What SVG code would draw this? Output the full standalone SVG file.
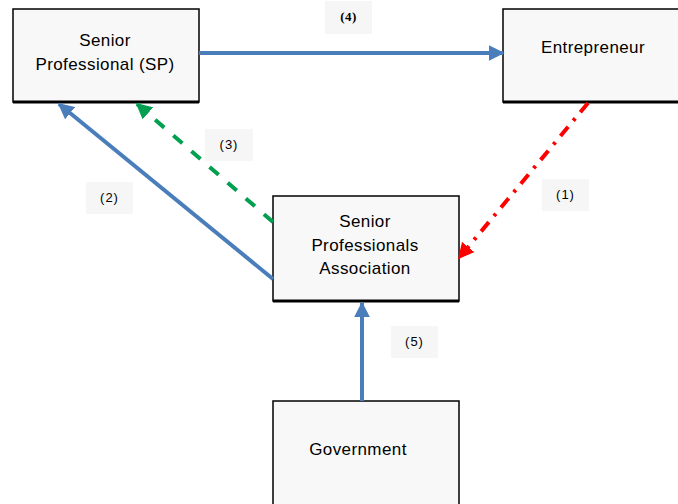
<svg xmlns="http://www.w3.org/2000/svg" width="678" height="504" viewBox="0 0 678 504">
  <style>
    .box { fill: #f8f8f8; stroke: #000; stroke-width: 1.5; }
    .base { stroke: #000; stroke-width: 3; }
    .txt { font-family: "Liberation Sans", Arial, sans-serif; font-size: 17px; letter-spacing: 0.4px; fill: #000; text-anchor: middle; }
    .tag { fill: #f6f6f6; }
    .tagtxt { font-family: "Liberation Sans", Arial, sans-serif; font-size: 13px; letter-spacing: 1px; fill: #000; text-anchor: middle; }
    .bold { font-family: "Liberation Serif", "Times New Roman", serif; font-weight: bold; letter-spacing: 0.5px; }
    .blue { stroke: #4a7ebb; stroke-width: 4; fill: none; }
  </style>
  <defs>
    <marker id="ahBlue" viewBox="0 0 10 10" refX="9" refY="5" markerWidth="4" markerHeight="4" orient="auto" markerUnits="strokeWidth">
      <path d="M0,0 L10,5 L0,10 z" fill="#4a7ebb"/>
    </marker>
    <marker id="ahGreen" viewBox="0 0 10 10" refX="9" refY="5" markerWidth="4" markerHeight="4" orient="auto" markerUnits="strokeWidth">
      <path d="M0,0 L10,5 L0,10 z" fill="#00a050"/>
    </marker>
    <marker id="ahRed" viewBox="0 0 10 10" refX="9" refY="5" markerWidth="4" markerHeight="4" orient="auto" markerUnits="strokeWidth">
      <path d="M0,0 L10,5 L0,10 z" fill="#ff0000"/>
    </marker>
  </defs>

  <rect width="678" height="504" fill="#fff"/>

  <!-- connector labels -->
  <g id="labels">
    <rect class="tag" x="325" y="1" width="47" height="33"/>
    <text class="tagtxt bold" x="348.5" y="21">(4)</text>
    <rect class="tag" x="205" y="129" width="48" height="32"/>
    <text class="tagtxt" x="229" y="149">(3)</text>
    <rect class="tag" x="86" y="182" width="47" height="32"/>
    <text class="tagtxt" x="109.5" y="202">(2)</text>
    <rect class="tag" x="542" y="179" width="47" height="32"/>
    <text class="tagtxt" x="565.5" y="199">(1)</text>
    <rect class="tag" x="391" y="326" width="47" height="32"/>
    <text class="tagtxt" x="414.5" y="346">(5)</text>
  </g>

  <g id="sp">
    <rect class="box" x="13" y="9" width="186" height="93"/>
    <line class="base" x1="13" y1="102" x2="199" y2="102"/>
    <text class="txt" x="105" y="46">Senior</text>
    <text class="txt" x="105" y="70">Professional (SP)</text>
  </g>

  <g id="entrepreneur">
    <rect class="box" x="503" y="9" width="176" height="93"/>
    <line class="base" x1="503" y1="102" x2="678" y2="102"/>
    <text class="txt" x="593" y="53">Entrepreneur</text>
  </g>

  <g id="spa">
    <rect class="box" x="273" y="196" width="186" height="105"/>
    <line class="base" x1="273" y1="301" x2="459" y2="301"/>
    <text class="txt" x="365" y="227">Senior</text>
    <text class="txt" x="365" y="251">Professionals</text>
    <text class="txt" x="365" y="274">Association</text>
  </g>

  <g id="government">
    <rect class="box" x="273" y="401" width="186" height="110"/>
    <text class="txt" x="358" y="455">Government</text>
  </g>

  <g id="connectors">
    <line class="blue" x1="199" y1="53" x2="503" y2="53" marker-end="url(#ahBlue)"/>
    <line class="blue" x1="273" y1="279" x2="59" y2="104" marker-end="url(#ahBlue)"/>
    <line x1="273" y1="222" x2="137" y2="104" stroke="#00a050" stroke-width="4" stroke-dasharray="12,12" marker-end="url(#ahGreen)"/>
    <line x1="588" y1="103" x2="459" y2="258" stroke="#ff0000" stroke-width="4" stroke-dasharray="12,8,3,8" marker-end="url(#ahRed)"/>
    <line class="blue" x1="362" y1="401" x2="362" y2="303" marker-end="url(#ahBlue)"/>
  </g>
</svg>
